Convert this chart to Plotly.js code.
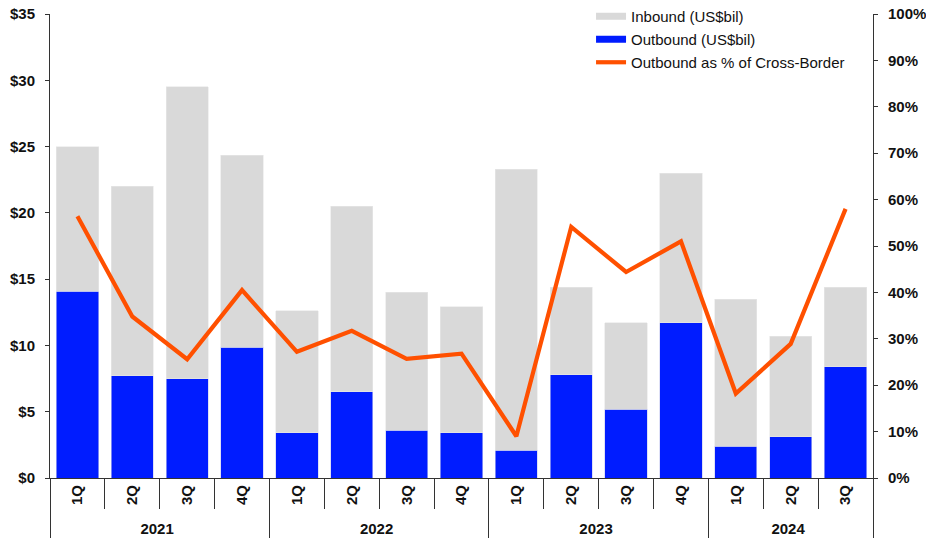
<!DOCTYPE html>
<html>
<head>
<meta charset="utf-8">
<script src="https://cdn.plot.ly/plotly-3.0.1.min.js"></script>
<style>html,body{margin:0;padding:0;background:#fff;}#chart{width:926px;height:538px;}</style>
</head>
<body>
<div id="chart"></div>
<script>
const years = ['2021','2021','2021','2021','2022','2022','2022','2022','2023','2023','2023','2023','2024','2024','2024'];
const quarters = ['1Q','2Q','3Q','4Q','1Q','2Q','3Q','4Q','1Q','2Q','3Q','4Q','1Q','2Q','3Q'];
const outbound = [14.1, 7.7, 7.5, 9.85, 3.4, 6.5, 3.6, 3.4, 2.1, 7.8, 5.2, 11.7, 2.4, 3.1, 8.4];
const inbound = [10.9, 14.3, 22.0, 14.5, 9.2, 14.0, 10.4, 9.5, 21.2, 6.6, 6.5, 11.3, 11.1, 7.6, 6.0];
const outboundPct = [56.4, 34.8, 25.6, 40.5, 27.2, 31.7, 25.7, 26.8, 9.0, 54.1, 44.4, 51.0, 18.2, 28.9, 58.0];

const GRAY = '#D9D9D9', BLUE = '#001CFF', ORANGE = '#FF5000';
const FONT = 'Liberation Sans, Arial, Helvetica, sans-serif';
const x = [years, quarters];
const legX = [[years[0]], [quarters[0]]];

const traces = [
  {type:'bar', name:'Outbound (US$bil)', x:x, y:outbound, marker:{color:BLUE, line:{color:'#c8ccf0', width:0.6}}, showlegend:false, hoverinfo:'y'},
  {type:'bar', name:'Inbound (US$bil)', x:x, y:inbound, marker:{color:GRAY, line:{color:'#e8e8e8', width:0.6}}, showlegend:false, hoverinfo:'y'},
  {type:'scatter', mode:'lines', name:'Outbound as % of Cross-Border', x:x, y:outboundPct, yaxis:'y2', line:{color:ORANGE, width:4.2}, showlegend:false},
  // legend swatches
  {type:'scatter', mode:'lines', name:'Inbound (US$bil)', x:legX, y:[null], line:{color:GRAY, width:7}, legendrank:1, legendgroup:'a', showlegend:true},
  {type:'scatter', mode:'lines', name:'Outbound (US$bil)', x:legX, y:[null], line:{color:BLUE, width:7}, legendrank:2, legendgroup:'b', showlegend:true},
  {type:'scatter', mode:'lines', name:'Outbound as % of Cross-Border', x:legX, y:[null], line:{color:ORANGE, width:4.2}, legendrank:3, legendgroup:'c', showlegend:true}
];

const layout = {
  width:926, height:538,
  margin:{l:50, r:53, t:0, b:60},
  paper_bgcolor:'#fff', plot_bgcolor:'#fff',
  barmode:'stack', bargap:0.23,
  font:{family:FONT, color:'#000'},
  showlegend:true,
  legend:{x:0.6574, xanchor:'left', y:1.0, yanchor:'top', bgcolor:'rgba(0,0,0,0)',
          font:{family:FONT, size:15, color:'#111'}, traceorder:'grouped', tracegroupgap:0.5,
          itemwidth:30},
  xaxis:{type:'multicategory', showline:true, linecolor:'#333', linewidth:1,
         ticks:'outside', ticklen:30, tickcolor:'#333', tickangle:-90,
         showdividers:true, dividercolor:'#333', dividerwidth:1,
         tickfont:{family:FONT, size:15, color:'#111', weight:'bold'}, showgrid:false, automargin:false},
  yaxis:{domain:[0, 464/478], range:[0,35], dtick:5, tickprefix:'$', showline:true, linecolor:'#333', linewidth:1,
         ticks:'outside', ticklen:4, tickcolor:'#333', showgrid:false, zeroline:false, ticklabelstandoff:7,
         tickfont:{family:FONT, size:15, color:'#111', weight:'bold'}, automargin:false},
  yaxis2:{range:[0,100], dtick:10, ticksuffix:'%', overlaying:'y', side:'right', showline:true,
          linecolor:'#333', linewidth:1, ticks:'outside', ticklen:4, tickcolor:'#333', showgrid:false, zeroline:false, ticklabelstandoff:7,
          tickfont:{family:FONT, size:15, color:'#111', weight:'bold'}, automargin:false}
};

Plotly.newPlot('chart', traces, layout, {displayModeBar:false, staticPlot:true});
</script>
</body>
</html>
